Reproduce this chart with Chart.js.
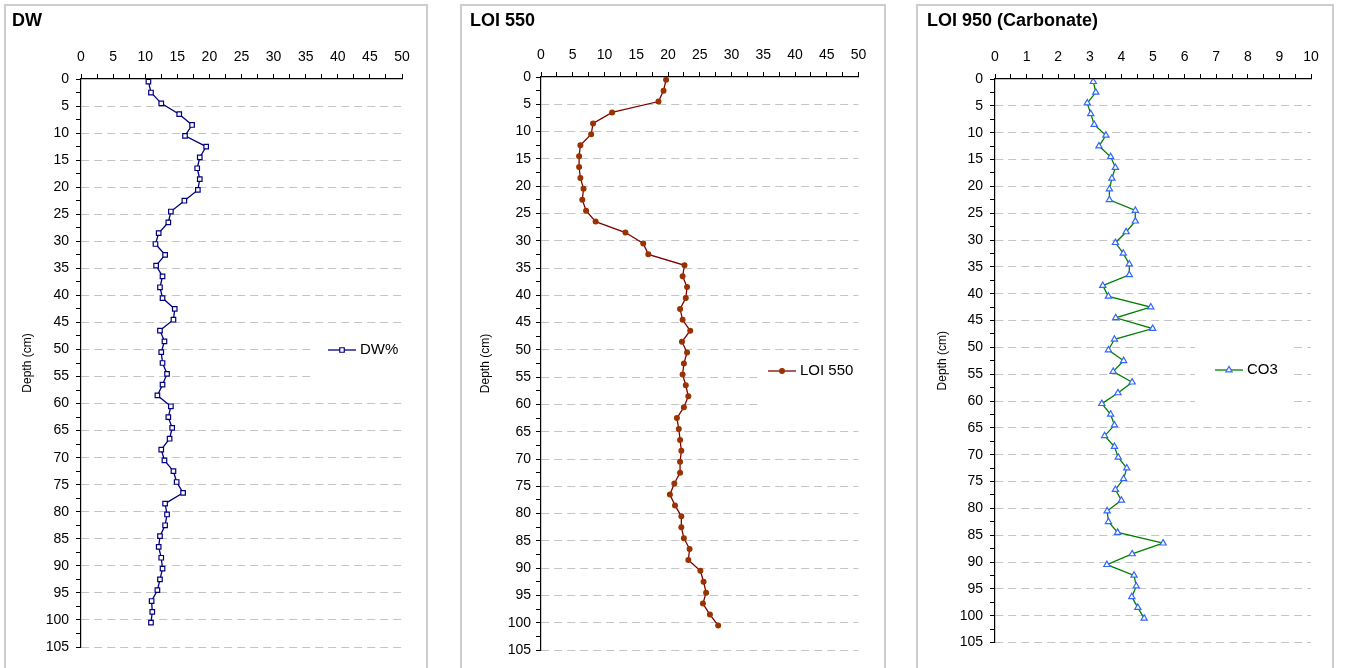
<!DOCTYPE html>
<html>
<head>
<meta charset="utf-8">
<script src="https://cdn.jsdelivr.net/npm/chart.js@4.4.1/dist/chart.umd.min.js"></script>
<style>
  body { margin: 0; background: #fff; overflow: hidden; }
  .panel { position: absolute; top: 4px; height: 700px; border: 2px solid #cdcdcd; box-sizing: border-box; }
  canvas { position: absolute; }
</style>
</head>
<body>
<div class="panel" style="left:4px;width:424px"></div>
<div class="panel" style="left:460px;width:426px"></div>
<div class="panel" style="left:916px;width:418px"></div>
<canvas id="dw" width="420" height="662" style="left:6px;top:6px"></canvas>
<canvas id="loi550" width="422" height="662" style="left:462px;top:6px"></canvas>
<canvas id="loi950" width="414" height="662" style="left:918px;top:6px"></canvas>
<script>
// sample depths (cm), one per slice
const depth = [0.5, 2.5, 4.5, 6.5, 8.5, 10.5, 12.5, 14.5, 16.5, 18.5,
  20.5, 22.5, 24.5, 26.5, 28.5, 30.5, 32.5, 34.5, 36.5, 38.5,
  40.5, 42.5, 44.5, 46.5, 48.5, 50.5, 52.5, 54.5, 56.5, 58.5,
  60.5, 62.5, 64.5, 66.5, 68.5, 70.5, 72.5, 74.5, 76.5, 78.5,
  80.5, 82.5, 84.5, 86.5, 88.5, 90.5, 92.5, 94.5, 96.5, 98.5, 100.5];

const dw = [10.5, 10.9, 12.5, 15.3, 17.3, 16.2, 19.5, 18.5, 18.1, 18.5,
  18.2, 16.1, 14.0, 13.6, 12.1, 11.6, 13.1, 11.7, 12.7, 12.3,
  12.7, 14.6, 14.4, 12.3, 13.0, 12.5, 12.7, 13.4, 12.7, 11.9,
  14.0, 13.6, 14.2, 13.8, 12.5, 13.0, 14.4, 14.9, 15.9, 13.1,
  13.4, 13.1, 12.3, 12.1, 12.5, 12.7, 12.3, 11.9, 11.0, 11.1, 10.9];

const loi550 = [19.7, 19.3, 18.5, 11.2, 8.2, 7.9, 6.2, 6.0, 6.0, 6.2,
  6.7, 6.5, 7.1, 8.6, 13.3, 16.1, 16.9, 22.6, 22.3, 23.0,
  22.8, 21.9, 22.3, 23.5, 22.2, 23.0, 22.5, 22.3, 22.8, 23.2,
  22.5, 21.4, 21.7, 21.9, 22.1, 21.9, 21.9, 21.0, 20.3, 21.1,
  22.1, 22.1, 22.5, 23.4, 23.2, 25.1, 25.6, 26.0, 25.5, 26.6, 27.9];

const co3 = [3.11, 3.19, 2.92, 3.03, 3.14, 3.51, 3.29, 3.66, 3.81, 3.70,
  3.62, 3.62, 4.44, 4.44, 4.15, 3.81, 4.06, 4.25, 4.25, 3.41,
  3.59, 4.93, 3.82, 4.99, 3.78, 3.59, 4.07, 3.74, 4.34, 3.89,
  3.38, 3.66, 3.78, 3.47, 3.78, 3.90, 4.17, 4.07, 3.81, 4.00,
  3.55, 3.59, 3.88, 5.32, 4.34, 3.54, 4.40, 4.47, 4.33, 4.52, 4.72];

const FONT = "'Liberation Sans', Arial, sans-serif";
const isMult = (v, m) => Math.abs(v / m - Math.round(v / m)) < 1e-6;

// legend drawn inside the plot, on a white patch like the spreadsheet one
const insideLegend = {
  id: 'insideLegend',
  afterDraw(chart, args, o) {
    if (!o || !o.box) return;
    const ctx = chart.ctx;
    const ds = chart.data.datasets[0];
    ctx.save();
    ctx.fillStyle = '#fff';
    ctx.fillRect(o.box[0], o.box[1], o.box[2], o.box[3]);
    ctx.strokeStyle = ds.borderColor;
    ctx.lineWidth = ds.borderWidth;
    ctx.beginPath();
    ctx.moveTo(o.x, o.y);
    ctx.lineTo(o.x + 28, o.y);
    ctx.stroke();
    ctx.fillStyle = ds.pointBackgroundColor;
    ctx.strokeStyle = ds.pointBorderColor;
    ctx.lineWidth = ds.pointBorderWidth;
    Chart.helpers.drawPoint(ctx, {
      pointStyle: ds.pointStyle, radius: ds.pointRadius,
      borderWidth: ds.pointBorderWidth, rotation: 0
    }, o.x + 14, o.y);
    ctx.fillStyle = '#000';
    ctx.font = '15px ' + FONT;
    ctx.textBaseline = 'middle';
    ctx.textAlign = 'left';
    ctx.fillText(ds.label, o.x + 32, o.y);
    ctx.restore();
  }
};

function depthChart(id, title, label, values, style, xAxis, lay) {
  const points = depth.map((d, i) => ({ x: values[i], y: d }));
  return new Chart(document.getElementById(id), {
    type: 'scatter',
    data: {
      datasets: [Object.assign({
        label: label,
        data: points,
        showLine: true,
        borderWidth: 1.3,
        pointBorderWidth: 1.2
      }, style)]
    },
    options: {
      responsive: false,
      animation: false,
      events: [],
      layout: { padding: lay.padding },
      plugins: {
        legend: { display: false },
        tooltip: { enabled: false },
        title: {
          display: true,
          text: title,
          align: 'start',
          color: '#000',
          font: { family: FONT, size: 18, weight: 'bold', lineHeight: 1.2 },
          padding: { top: 4, bottom: 0 }
        },
        insideLegend: lay.legend
      },
      scales: {
        x: {
          type: 'linear',
          position: 'top',
          min: 0,
          max: xAxis.max,
          afterFit: (s) => { s.height = lay.xHeight; },
          ticks: {
            stepSize: xAxis.step,
            autoSkip: false,
            maxRotation: 0,
            padding: 8,
            color: '#000',
            font: { family: FONT, size: 14 },
            callback: (v) => isMult(v, xAxis.label) ? v : ''
          },
          grid: { drawOnChartArea: false, tickLength: 5, tickColor: '#000' },
          border: { display: true, color: '#000', width: 1.2 }
        },
        y: {
          type: 'linear',
          reverse: true,
          min: 0,
          max: 105,
          afterFit: (s) => { s.width = lay.yWidth; },
          title: {
            display: true,
            text: 'Depth (cm)',
            color: '#000',
            font: { family: FONT, size: 12 },
            padding: { top: 8, bottom: 0 }
          },
          ticks: {
            stepSize: 2.5,
            autoSkip: false,
            padding: lay.yPad,
            color: '#000',
            font: { family: FONT, size: 14 },
            callback: (v) => isMult(v, 5) ? v : ''
          },
          grid: {
            color: (c) => (c.tick && c.tick.value > 0 && isMult(c.tick.value, 5)) ? '#c4c4c4' : 'rgba(0,0,0,0)',
            lineWidth: 1,
            tickLength: 5,
            tickColor: '#000'
          },
          border: { display: true, color: '#000', width: 1.2, dash: [8, 5] }
        }
      }
    },
    plugins: [insideLegend]
  });
}

depthChart('dw', 'DW', 'DW%', dw, {
  borderColor: '#000080',
  pointStyle: 'rect',
  pointRadius: 3.2,
  pointBackgroundColor: '#ffffff',
  pointBorderColor: '#000080'
}, { max: 50, step: 2.5, label: 5 }, {
  padding: { left: 6, right: 24, top: 0, bottom: 21 },
  xHeight: 47.4, yWidth: 69, yPad: 7,
  legend: { x: 322, y: 344, box: [306, 329, 110, 50] }
});

depthChart('loi550', 'LOI 550', 'LOI 550', loi550, {
  borderColor: '#800000',
  pointStyle: 'circle',
  pointRadius: 2.4,
  pointBackgroundColor: '#993300',
  pointBorderColor: '#993300'
}, { max: 50, step: 2.5, label: 5 }, {
  padding: { left: 8, right: 25.5, top: 0, bottom: 18 },
  xHeight: 45.4, yWidth: 71, yPad: 5,
  legend: { x: 306, y: 365, box: [298, 350, 110, 55] }
});

depthChart('loi950', 'LOI 950 (Carbonate)', 'CO3', co3, {
  borderColor: '#008000',
  pointStyle: 'triangle',
  pointRadius: 3.6,
  pointBackgroundColor: '#ffffff',
  pointBorderColor: '#3366ff'
}, { max: 10, step: 0.5, label: 1 }, {
  padding: { left: 9, right: 21, top: 0, bottom: 25.5 },
  xHeight: 47.4, yWidth: 68, yPad: 7,
  legend: { x: 297, y: 364, box: [277, 329, 97, 70] }
});
</script>
</body>
</html>
